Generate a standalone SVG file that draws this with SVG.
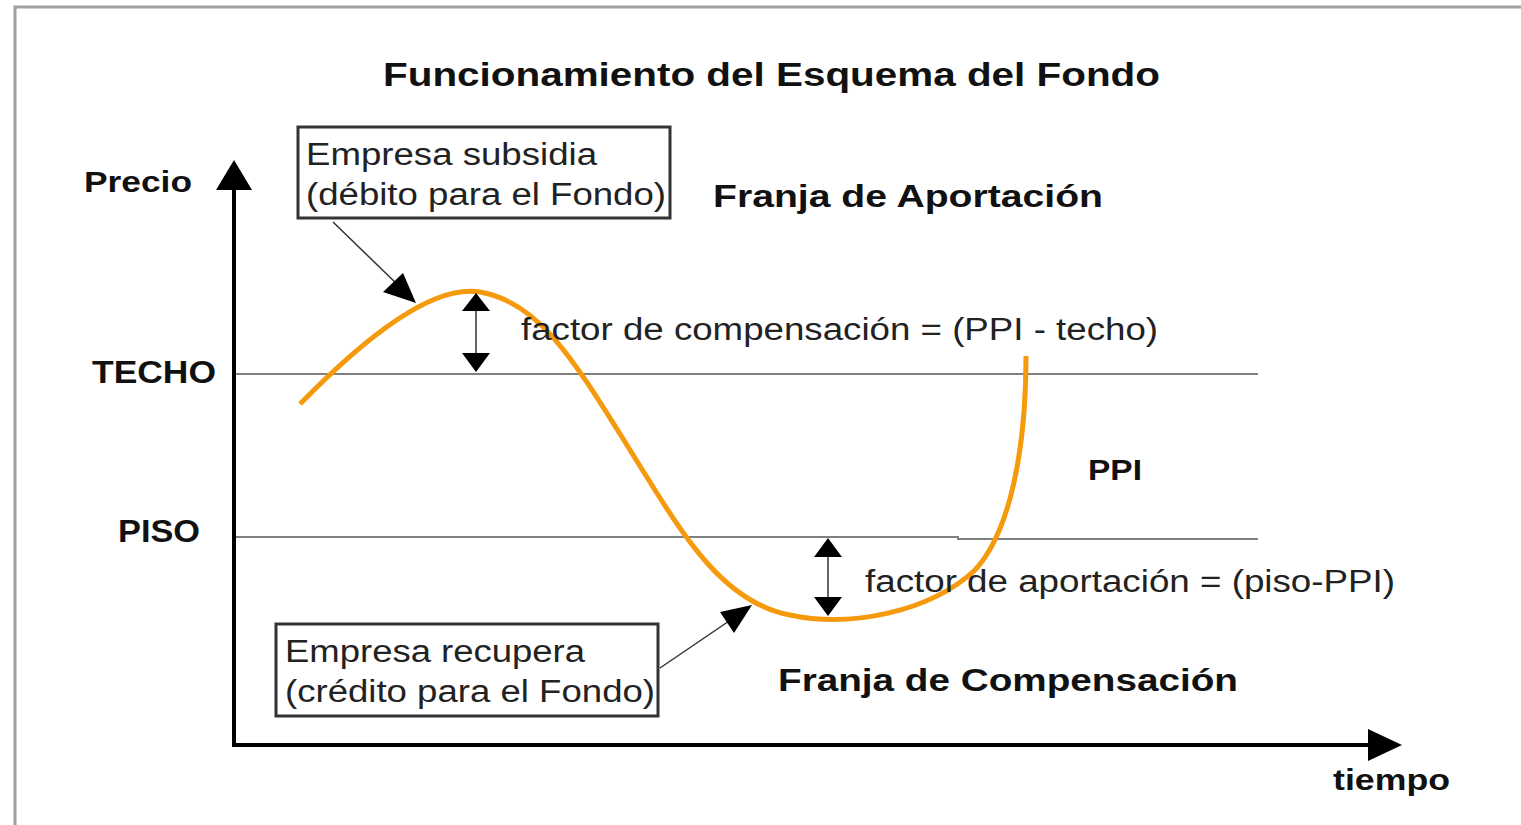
<svg xmlns="http://www.w3.org/2000/svg" width="1521" height="825" viewBox="0 0 1521 825">
<style>
text{font-family:"Liberation Sans",Arial,sans-serif;}
.b{font-weight:bold;fill:#111;}
.n{fill:#222;}
.ref{stroke:#808080;stroke-width:2;fill:none;}
.ax{stroke:#000;stroke-width:4;fill:none;}
.box{fill:#fff;stroke:#333;stroke-width:3;}
.lead{stroke:#333;stroke-width:1.5;fill:none;}
.tri{fill:#000;}
</style>
<rect x="0" y="0" width="1521" height="825" fill="#fff"/>
<path d="M15,825 V7 H1521" stroke="#a0a0a0" stroke-width="3" fill="none"/>
<text id="title" class="b" x="383" y="86" font-size="33" textLength="777" lengthAdjust="spacingAndGlyphs">Funcionamiento del Esquema del Fondo</text>
<g id="axes">
<line class="ax" x1="234" y1="186" x2="234" y2="746"/>
<polygon class="tri" points="234,160 216,190 252,190"/>
<line class="ax" x1="232" y1="745" x2="1372" y2="745"/>
<polygon class="tri" points="1402,745 1368,729 1368,761"/>
<text class="b" x="84" y="192" font-size="30" textLength="108" lengthAdjust="spacingAndGlyphs">Precio</text>
<text class="b" x="1333" y="790" font-size="30" textLength="117" lengthAdjust="spacingAndGlyphs">tiempo</text>
</g>
<g id="techo">
<line class="ref" x1="236" y1="374" x2="1258" y2="374"/>
<text class="b" x="92" y="383" font-size="31" textLength="124" lengthAdjust="spacingAndGlyphs">TECHO</text>
</g>
<g id="piso">
<path class="ref" d="M236,537 H958 V539 H1258"/>
<text class="b" x="118" y="542" font-size="31" textLength="82" lengthAdjust="spacingAndGlyphs">PISO</text>
</g>
<g id="ppi-curve">
<path d="M300,404 C380,322 440,285 480,292 C540,302 575,362 630,450 C680,530 720,602 790,615 C850,628 930,612 975,570 C1010,532 1026,450 1026,356" stroke="#f59a0c" stroke-width="5" fill="none"/>
<text class="b" x="1088" y="480" font-size="30" textLength="54" lengthAdjust="spacingAndGlyphs">PPI</text>
</g>
<g id="franja-aportacion">
<text class="b" x="713" y="207" font-size="31" textLength="390" lengthAdjust="spacingAndGlyphs">Franja de Aportación</text>
</g>
<g id="franja-compensacion">
<text class="b" x="778" y="691" font-size="31" textLength="460" lengthAdjust="spacingAndGlyphs">Franja de Compensación</text>
</g>
<g id="box-subsidia">
<rect class="box" x="298" y="127" width="372" height="91"/>
<text class="n" x="306" y="165" font-size="31" textLength="291" lengthAdjust="spacingAndGlyphs">Empresa subsidia</text>
<text class="n" x="306" y="205" font-size="31" textLength="360" lengthAdjust="spacingAndGlyphs">(débito para el Fondo)</text>
</g>
<g id="box-recupera">
<rect class="box" x="276" y="624" width="382" height="92"/>
<text class="n" x="285" y="662" font-size="31" textLength="300" lengthAdjust="spacingAndGlyphs">Empresa recupera</text>
<text class="n" x="285" y="702" font-size="31" textLength="370" lengthAdjust="spacingAndGlyphs">(crédito para el Fondo)</text>
</g>
<g id="factor-compensacion">
<text class="n" x="521" y="340" font-size="31" textLength="637" lengthAdjust="spacingAndGlyphs">factor de compensación = (PPI - techo)</text>
</g>
<g id="factor-aportacion">
<text class="n" x="865" y="592" font-size="31" textLength="530" lengthAdjust="spacingAndGlyphs">factor de aportación = (piso-PPI)</text>
</g>
<g id="connectors">
<line class="lead" x1="333" y1="222" x2="400" y2="287"/>
<polygon class="tri" points="416,303 383,292 403,273"/>
<line class="lead" x1="660" y1="668" x2="735" y2="617"/>
<polygon class="tri" points="752,605 734,633 720,612"/>
<line stroke="#666" stroke-width="2" x1="476" y1="310" x2="476" y2="354"/>
<polygon class="tri" points="476,293 462,311 490,311"/>
<polygon class="tri" points="476,372 462,353 490,353"/>
<line stroke="#666" stroke-width="2" x1="828" y1="556" x2="828" y2="598"/>
<polygon class="tri" points="828,538 814,557 842,557"/>
<polygon class="tri" points="828,616 814,597 842,597"/>
</g>
</svg>
